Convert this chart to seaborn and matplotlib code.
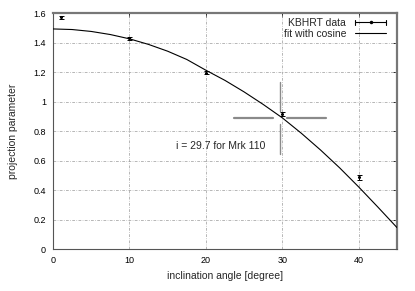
import matplotlib
matplotlib.use("Agg")
import matplotlib.pyplot as plt
import seaborn as sns
import pandas as pd
import numpy as np
from matplotlib.lines import Line2D
from matplotlib.legend_handler import HandlerBase
from matplotlib.ticker import FuncFormatter, MultipleLocator

# ---- data ----
data_angle = [1, 10, 20, 30, 40]
data_proj = [1.57, 1.428, 1.195, 0.915, 0.486]
data_err = [0.010, 0.010, 0.010, 0.014, 0.016]

fit_angle = [0, 2.5, 5, 7.5, 10, 12.5, 15, 17.5, 20, 22.5, 25, 27.5, 30,
             32.5, 35, 37.5, 40, 42.5, 45]
fit_proj = [1.492, 1.488, 1.475, 1.454, 1.425, 1.387, 1.341, 1.285, 1.212,
            1.143, 1.065, 0.980, 0.889, 0.784, 0.671, 0.550, 0.420, 0.284, 0.145]

incl_value = 29.7
incl_proj = 0.89
annot_text = "i = 29.7 for Mrk 110"
legend_labels = ["KBHRT data", "fit with cosine"]
xlabel = "inclination angle [degree]"
ylabel = "projection parameter"

sns.set_style("white")
plt.rcParams['font.family'] = ['Liberation Sans', 'DejaVu Sans']

fig = plt.figure(figsize=(4.15, 2.91), dpi=100)
ax = fig.add_axes([0.1277, 0.1443, 0.829, 0.811])

fit_df = pd.DataFrame({"angle": fit_angle, "proj": fit_proj})
sns.lineplot(data=fit_df, x="angle", y="proj", ax=ax, color="black",
             lw=0.8, zorder=3, legend=False)

ax.errorbar(data_angle, data_proj, yerr=data_err, fmt='o', ms=1.2,
            color='black', ecolor='black', elinewidth=0.7, capsize=1.8,
            capthick=0.7, zorder=4)

# crosshair marking the inclination
hx, hy, gapx, gapy = 6.0, 0.245, 0.95, 0.045
cc = '#8a8a8a'
ax.plot([incl_value - hx, incl_value - gapx], [incl_proj, incl_proj], color=cc, lw=1.6, zorder=2)
ax.plot([incl_value + gapx, incl_value + hx], [incl_proj, incl_proj], color=cc, lw=1.6, zorder=2)
ax.plot([incl_value, incl_value], [incl_proj + gapy, incl_proj + hy], color=cc, lw=1.0, zorder=2)
ax.plot([incl_value, incl_value], [incl_proj - hy, incl_proj - gapy], color=cc, lw=1.0, zorder=2)

ax.text(16.1, 0.70, annot_text, fontsize=7.5, ha='left', va='center')

ax.set_xlim(0, 45)
ax.set_ylim(0, 1.6)
ax.xaxis.set_major_locator(MultipleLocator(10))
ax.yaxis.set_major_locator(MultipleLocator(0.2))
ax.yaxis.set_major_formatter(FuncFormatter(lambda v, p: ("%g" % round(v, 2))))
ax.tick_params(direction='in', length=3, width=0.6, top=True, right=True,
               labelsize=6.5, pad=5, colors='black')
ax.set_xlabel(xlabel, fontsize=7.5, labelpad=4)
ax.set_ylabel(ylabel, fontsize=7.5, labelpad=11)

# grid (dash-dot) at inner ticks only
for gx in [10, 20, 30, 40]:
    ax.axvline(gx, color='#9a9a9a', lw=0.5, ls=(0, (4, 2, 1, 2)), zorder=1)
for gy in [0.2, 0.4, 0.6, 0.8, 1.0, 1.2, 1.4]:
    ax.axhline(gy, color='#9a9a9a', lw=0.5, ls=(0, (4, 2, 1, 2)), zorder=1)

for s in ['left', 'bottom']:
    ax.spines[s].set_color('#555555')
    ax.spines[s].set_linewidth(0.8)
for s in ['top', 'right']:
    ax.spines[s].set_color('#777777')
    ax.spines[s].set_linewidth(1.6)


class ErrHandler(HandlerBase):
    def create_artists(self, legend, orig, xd, yd, w, h, fs, trans):
        y = yd + h / 2
        main = Line2D([xd, xd + w], [y, y], color='black', lw=0.8, transform=trans)
        c1 = Line2D([xd, xd], [y - 2, y + 2], color='black', lw=0.8, transform=trans)
        c2 = Line2D([xd + w, xd + w], [y - 2, y + 2], color='black', lw=0.8, transform=trans)
        dot = Line2D([xd + w / 2], [y], marker='o', ms=1.5, color='black', transform=trans)
        return [main, c1, c2, dot]


h_data = Line2D([], [], color='black')
h_fit = Line2D([], [], color='black', lw=0.8)
leg = ax.legend([h_data, h_fit], legend_labels,
                handler_map={h_data: ErrHandler()},
                loc='upper right', bbox_to_anchor=(0.985, 1.005),
                frameon=False, markerfirst=False, fontsize=7.5,
                handlelength=2.9, handletextpad=0.9, labelspacing=0.1,
                borderaxespad=0.2)
for t in leg.get_texts():
    t.set_ha('right')

fig.savefig("out.png", dpi=100)
